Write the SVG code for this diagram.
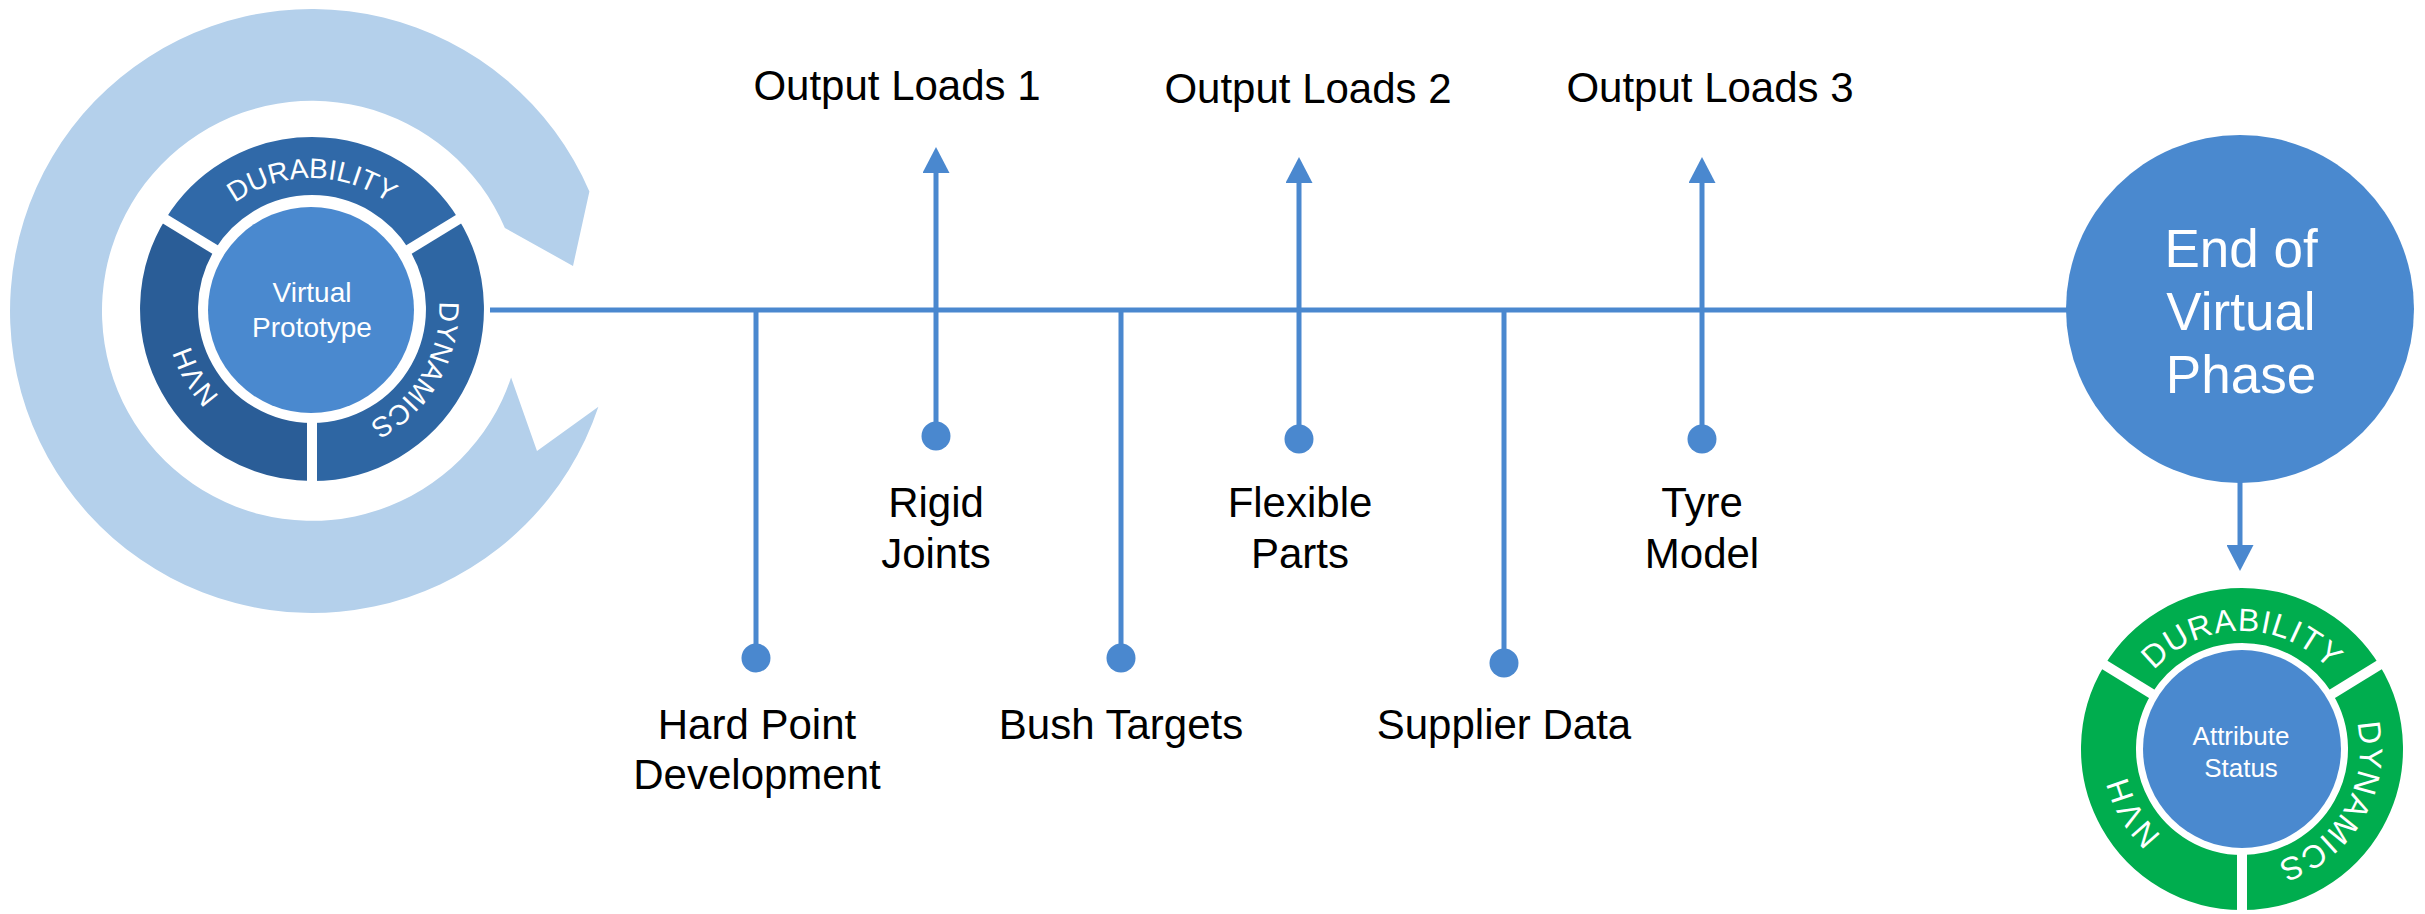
<svg xmlns="http://www.w3.org/2000/svg" width="2425" height="914" viewBox="0 0 2425 914">
<style>
.lbl{font-family:"Liberation Sans",Arial,sans-serif;font-size:42px;fill:#000;text-anchor:middle}
.ring{font-family:"Liberation Sans",Arial,sans-serif;fill:#fff;text-anchor:middle}
.gring{font-family:"Liberation Sans",Arial,sans-serif;fill:#fff;text-anchor:middle;font-size:32px;letter-spacing:1px}
.conn{stroke:#4A88CF;stroke-width:5;fill:none}
.dot{fill:#4A88CF}
.gap{stroke:#fff;stroke-width:10}
</style>
<defs>
<marker id="ah" markerUnits="userSpaceOnUse" viewBox="0 0 26 27" markerWidth="26" markerHeight="27" refX="4" refY="13.5" orient="auto">
<path d="M0,0 L26,13.5 L0,27 Z" fill="#4A88CF"/>
</marker>
<path id="vpTop" d="M181,309 A131,131 0 0 1 443,309"/>
<path id="vpRight" d="M376.5,197.3 A129,129 0 0 1 247.5,420.7"/>
<path id="vpLeft" d="M376.5,420.7 A129,129 0 0 1 247.5,197.3"/>
<path id="asTop" d="M2124,749 A118,118 0 0 1 2360,749"/>
<path id="asRight" d="M2301,646.8 A118,118 0 0 1 2183,851.2"/>
<path id="asLeft" d="M2301,851.2 A118,118 0 0 1 2183,646.8"/>
</defs>
<rect width="2425" height="914" fill="#fff"/>

<g id="virtual-prototype">
<path d="M589.4,191.5 L573,266 L504.9,227.9 A210,210 0 1 0 511.1,377.6 L537,451 L598.4,406.8 A302,302 0 1 1 589.4,191.5 Z" fill="#B4D0EB"/>
<path d="M190.1,234.3 A143,143 0 0 1 433.9,234.3" fill="none" stroke="#3069A8" stroke-width="58"/>
<path d="M433.9,234.3 A143,143 0 0 1 312,452" fill="none" stroke="#2E66A3" stroke-width="58"/>
<path d="M312,452 A143,143 0 0 1 190.1,234.3" fill="none" stroke="#2A5D97" stroke-width="58"/>
<line class="gap" x1="401.5" y1="254.1" x2="465.5" y2="214.9"/>
<line class="gap" x1="222.5" y1="254.1" x2="158.5" y2="214.9"/>
<line class="gap" x1="312" y1="414" x2="312" y2="489"/>
<circle cx="311" cy="310" r="103" fill="#4A89CF"/>
<text class="ring" font-size="28"><textPath href="#vpTop" startOffset="50%">DURABILITY</textPath></text>
<text class="ring" font-size="28"><textPath href="#vpRight" startOffset="50%">DYNAMICS</textPath></text>
<text class="ring" font-size="28"><textPath href="#vpLeft" startOffset="50%">NVH</textPath></text>
<text class="ring" font-size="28" fill="#EEF3F9"><tspan x="312" y="302">Virtual</tspan><tspan x="312" y="337">Prototype</tspan></text>
</g>

<g id="connectors">
<line class="conn" x1="490" y1="310" x2="2070" y2="310"/>
<line class="conn" x1="756" y1="310" x2="756" y2="658"/>
<line class="conn" x1="1121" y1="310" x2="1121" y2="658"/>
<line class="conn" x1="1504" y1="312" x2="1504" y2="663"/>
<line class="conn" x1="936" y1="436" x2="936" y2="169" marker-end="url(#ah)"/>
<line class="conn" x1="1299" y1="439" x2="1299" y2="179" marker-end="url(#ah)"/>
<line class="conn" x1="1702" y1="439" x2="1702" y2="179" marker-end="url(#ah)"/>
<line class="conn" x1="2240" y1="480" x2="2240" y2="549" marker-end="url(#ah)"/>
<circle class="dot" cx="756" cy="658" r="14.5"/>
<circle class="dot" cx="1121" cy="658" r="14.5"/>
<circle class="dot" cx="1504" cy="663" r="14.5"/>
<circle class="dot" cx="936" cy="436" r="14.5"/>
<circle class="dot" cx="1299" cy="439" r="14.5"/>
<circle class="dot" cx="1702" cy="439" r="14.5"/>
</g>

<g id="output-loads-1"><text class="lbl" x="897" y="100">Output Loads 1</text></g>
<g id="output-loads-2"><text class="lbl" x="1308" y="103">Output Loads 2</text></g>
<g id="output-loads-3"><text class="lbl" x="1710" y="102">Output Loads 3</text></g>
<g id="rigid-joints"><text class="lbl"><tspan x="936" y="517">Rigid</tspan><tspan x="936" y="568">Joints</tspan></text></g>
<g id="flexible-parts"><text class="lbl"><tspan x="1300" y="517">Flexible</tspan><tspan x="1300" y="568">Parts</tspan></text></g>
<g id="tyre-model"><text class="lbl"><tspan x="1702" y="517">Tyre</tspan><tspan x="1702" y="568">Model</tspan></text></g>
<g id="hard-point"><text class="lbl"><tspan x="757" y="739">Hard Point</tspan><tspan x="757" y="789">Development</tspan></text></g>
<g id="bush-targets"><text class="lbl" x="1121" y="739">Bush Targets</text></g>
<g id="supplier-data"><text class="lbl" x="1504" y="739">Supplier Data</text></g>

<g id="end-of-virtual-phase">
<circle cx="2240" cy="309" r="174" fill="#4A89CF"/>
<text class="ring" font-size="53"><tspan x="2241" y="267">End of</tspan><tspan x="2241" y="330">Virtual</tspan><tspan x="2241" y="393">Phase</tspan></text>
</g>

<g id="attribute-status">
<path d="M2128.2,679.2 A133.5,133.5 0 0 1 2355.8,679.2" fill="none" stroke="#00AD4E" stroke-width="55"/>
<path d="M2355.8,679.2 A133.5,133.5 0 0 1 2242,882.5" fill="none" stroke="#00AD4E" stroke-width="55"/>
<path d="M2242,882.5 A133.5,133.5 0 0 1 2128.2,679.2" fill="none" stroke="#00AD4E" stroke-width="55"/>
<line class="gap" x1="2323" y1="699.4" x2="2386.9" y2="660.2" stroke-width="9"/>
<line class="gap" x1="2161" y1="699.4" x2="2097.1" y2="660.2" stroke-width="9"/>
<line class="gap" x1="2242" y1="844" x2="2242" y2="919" stroke-width="9"/>
<circle cx="2242" cy="749" r="99" fill="#4A89CF"/>
<text class="gring"><textPath href="#asTop" startOffset="50%">DURABILITY</textPath></text>
<text class="gring"><textPath href="#asRight" startOffset="50%">DYNAMICS</textPath></text>
<text class="gring"><textPath href="#asLeft" startOffset="50%">NVH</textPath></text>
<text class="ring" font-size="26"><tspan x="2241" y="745">Attribute</tspan><tspan x="2241" y="777">Status</tspan></text>
</g>
</svg>
